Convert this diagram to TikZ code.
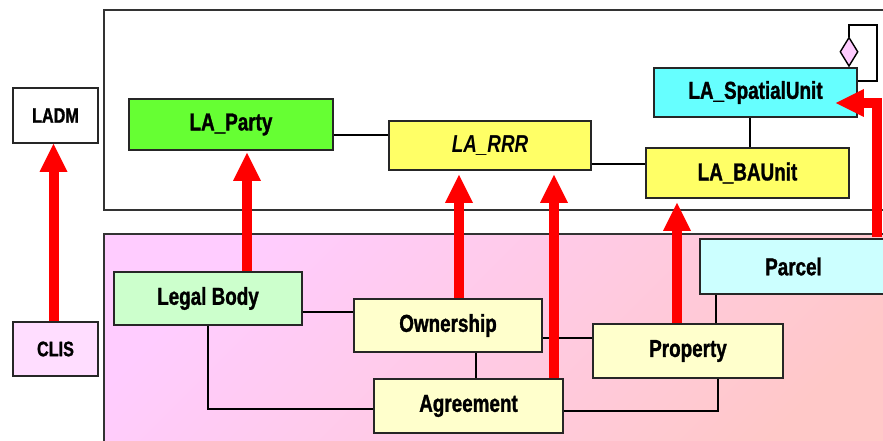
\documentclass[tikz,border=0pt]{standalone}
\usepackage{fontspec}
\setmainfont{Liberation Sans}[FakeStretch=0.77, BoldFeatures={FakeBold=1.2}]
\usetikzlibrary{arrows.meta,shapes.geometric}
\definecolor{partyg}{HTML}{66FF33}
\definecolor{rrry}{HTML}{FFFF66}
\definecolor{suc}{HTML}{66FFFF}
\definecolor{lbg}{HTML}{CCFFCC}
\definecolor{ly}{HTML}{FFFFCC}
\definecolor{lc}{HTML}{CCFFFF}
\definecolor{clisp}{HTML}{FFDDFF}
\definecolor{diap}{HTML}{FFCCFF}
\definecolor{pkA}{HTML}{FFCCFF}
\definecolor{pkB}{HTML}{FFC8C8}
\begin{document}
\begin{tikzpicture}[x=1pt,y=-1pt,
  box/.style={draw=black!85, line width=1.6pt, inner sep=0pt, font=\fontsize{24.5}{28}\selectfont\bfseries},
  smallbox/.style={box, font=\fontsize{21}{24}\selectfont\bfseries},
  conn/.style={draw=black, line width=1.4pt},
  redarr/.style={draw=red, line width=10pt, -{Triangle[width=28pt,length=28pt,line width=0pt]}},
  framebox/.style={draw=black!80, line width=2pt}]
\useasboundingbox (0,0) rectangle (883,441);
\clip (0,0) rectangle (883,441);
% frames
\draw[framebox, fill=white] (104,10) rectangle (900,210);
\shade[top color=pkA, bottom color=pkB, shading angle=45] (104,234) rectangle (900,460);
\draw[framebox] (104,234) rectangle (900,460);
% boxes
\node[smallbox, fill=white, minimum width=85pt, minimum height=55pt] (ladm) at (55.5,115.5) {LADM};
\node[smallbox, fill=clisp, minimum width=85pt, minimum height=54pt] (clis) at (55.5,349) {CLIS};
\node[box, fill=partyg, minimum width=204pt, minimum height=51pt] (party) at (231,124.5) {LA\_Party};
\node[box, fill=rrry, minimum width=202pt, minimum height=49pt] (rrr) at (490,145.5) {\itshape LA\_RRR};
\node[box, fill=suc, minimum width=203pt, minimum height=49pt] (su) at (755.5,92.5) {LA\_SpatialUnit};
\node[box, fill=rrry, minimum width=203pt, minimum height=50pt] (bau) at (747.5,173) {LA\_BAUnit};
\node[box, fill=lbg, minimum width=188pt, minimum height=53pt] (lb) at (208,298.5) {Legal Body};
\node[box, fill=ly, minimum width=188pt, minimum height=53pt] (own) at (448,325.5) {Ownership};
\node[box, fill=ly, minimum width=189pt, minimum height=54pt] (agr) at (468.5,406) {Agreement};
\node[box, fill=ly, minimum width=190pt, minimum height=54pt] (prop) at (688,351) {Property};
\node[box, fill=lc, minimum width=187pt, minimum height=55pt] (parcel) at (793.5,266.5) {Parcel};
\node[diamond, draw=black, line width=1.4pt, fill=diap, inner sep=0pt, minimum width=18pt, minimum height=29pt, anchor=south] (dia) at (849,67) {};
\coordinate (loopc) at (877,25);
% connectors
\draw[conn] ([yshift=-10.5pt]party.east) -- ([yshift=-10.5pt]party.east -| rrr.west);
\draw[conn] ([yshift=-18.5pt]rrr.east) -- ([yshift=-18.5pt]rrr.east -| bau.west);
\draw[conn] ([xshift=-5.5pt]su.south) -- ([xshift=-5.5pt]su.south |- bau.north);
\draw[conn] (dia.north) |- (loopc) |- ([yshift=11.5pt]su.east);
\draw[conn] ([yshift=-13.5pt]lb.east) -- ([yshift=-13.5pt]lb.east -| own.west);
\draw[conn] (lb.south) |- ([yshift=-3pt]agr.west);
\draw[conn] ([xshift=28pt]own.south) -- ([xshift=28pt]own.south |- agr.north);
\draw[conn] ([yshift=-12.5pt]own.east) -- ([yshift=-12.5pt]own.east -| prop.west);
\draw[conn] ([yshift=-5pt]agr.east) -| ([xshift=30pt]prop.south);
\draw[conn] ([xshift=28pt]prop.north) -- ([xshift=28pt]prop.north |- parcel.south);
% red arrows
\draw[redarr] ([xshift=-2pt]clis.north) -- ([xshift=-2pt]clis.north |- ladm.south);
\draw[redarr, shorten >=2pt] ([xshift=39pt]lb.north) -- ([xshift=39pt]lb.north |- party.south);
\draw[redarr, shorten >=4pt] ([xshift=11pt]own.north) -- ([xshift=11pt]own.north |- rrr.south);
\draw[redarr, shorten >=4pt] ([xshift=85.5pt]agr.north) -- ([xshift=85.5pt]agr.north |- rrr.south);
\draw[redarr, shorten >=4pt] ([xshift=-11pt]prop.north) -- ([xshift=-11pt]prop.north |- bau.south);
\draw[redarr, shorten >=-22pt] ([xshift=83.5pt,yshift=1pt]parcel.north) |- ([yshift=-10.5pt]su.east);
\end{tikzpicture}
\end{document}
